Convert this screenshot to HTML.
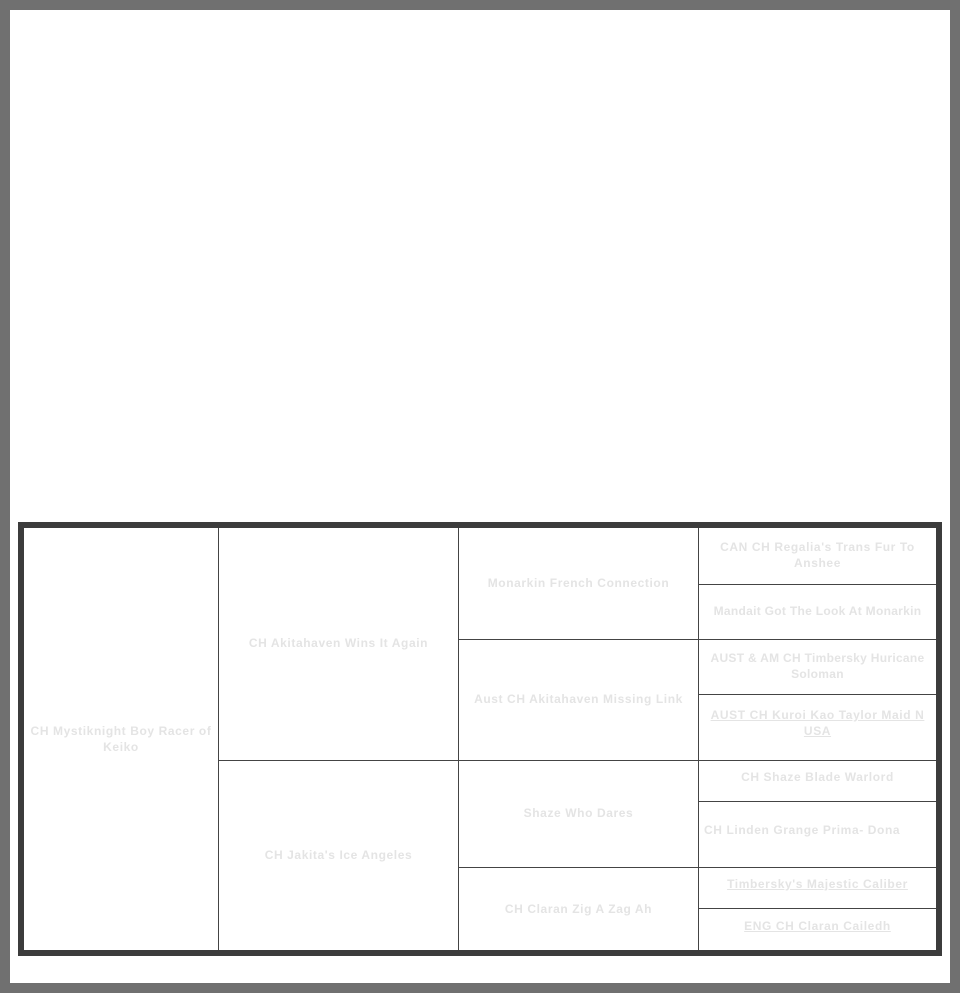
<!DOCTYPE html>
<html><head><style>
html,body{margin:0;padding:0;}
body{width:960px;height:993px;background:#707070;position:relative;overflow:hidden;font-family:"Liberation Sans",Arial,sans-serif;}
.page{position:absolute;left:10px;top:10px;width:940px;height:973px;background:#fff;}
.tbl{position:absolute;left:18px;top:522px;width:912px;height:422px;border:6px solid #3c3c3c;background:#fff;}
.v{position:absolute;width:1px;background:#444;}
.h{position:absolute;height:1px;background:#444;}
.t{position:absolute;text-align:center;font-weight:bold;font-size:12px;line-height:16px;color:#e4e4e4;letter-spacing:0.6px;}
.u{text-decoration:underline;}
</style></head><body>
<div class="page"></div>
<div class="tbl"></div>
<div class="v" style="left:218px;top:528px;height:422px"></div>
<div class="v" style="left:458px;top:528px;height:422px"></div>
<div class="v" style="left:698px;top:528px;height:422px"></div>
<div class="h" style="left:218px;top:760px;width:718px"></div>
<div class="h" style="left:458px;top:639px;width:478px"></div>
<div class="h" style="left:458px;top:867px;width:478px"></div>
<div class="h" style="left:698px;top:584px;width:238px"></div>
<div class="h" style="left:698px;top:694px;width:238px"></div>
<div class="h" style="left:698px;top:801px;width:238px"></div>
<div class="h" style="left:698px;top:908px;width:238px"></div>

<div class="t" style="left:26px;width:190px;top:723px">CH Mystiknight Boy Racer of Keiko</div>
<div class="t" style="left:219px;width:239px;top:635px">CH Akitahaven Wins It Again</div>
<div class="t" style="left:219px;width:239px;top:847px">CH Jakita's Ice Angeles</div>
<div class="t" style="left:459px;width:239px;top:575px">Monarkin French Connection</div>
<div class="t" style="left:459px;width:239px;top:691px">Aust CH Akitahaven Missing Link</div>
<div class="t" style="left:459px;width:239px;top:805px">Shaze Who Dares</div>
<div class="t" style="left:459px;width:239px;top:901px">CH Claran Zig A Zag Ah</div>
<div class="t" style="left:703px;width:229px;top:539px">CAN CH Regalia's Trans Fur To Anshee</div>
<div class="t" style="left:700px;width:235px;top:603px;letter-spacing:0.3px">Mandait Got The Look At Monarkin</div>
<div class="t" style="left:703px;width:229px;top:650px;letter-spacing:0.3px">AUST &amp; AM CH Timbersky Huricane Soloman</div>
<div class="t u" style="left:703px;width:229px;top:707px">AUST CH Kuroi Kao Taylor Maid N USA</div>
<div class="t" style="left:700px;width:235px;top:769px">CH Shaze Blade Warlord</div>
<div class="t" style="left:704px;width:231px;top:822px;text-align:left">CH Linden Grange Prima- Dona</div>
<div class="t u" style="left:700px;width:235px;top:876px">Timbersky's Majestic Caliber</div>
<div class="t u" style="left:700px;width:235px;top:918px">ENG CH Claran Cailedh</div>
</body></html>
